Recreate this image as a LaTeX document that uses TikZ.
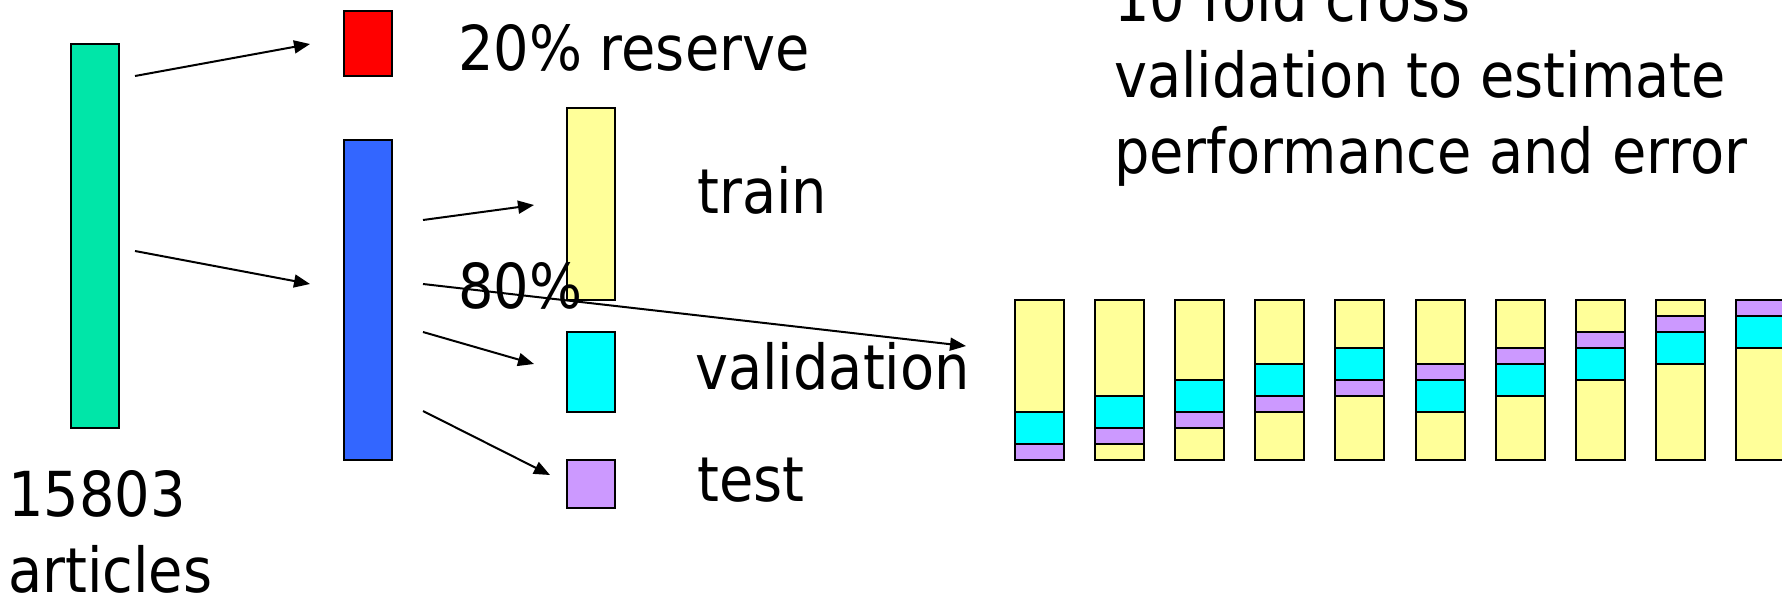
\documentclass[tikz,border=0pt]{standalone}
\usepackage{fontspec}
\setmainfont{DejaVu Sans}[FakeStretch=0.9]
\usetikzlibrary{arrows.meta}
\definecolor{cgreen}{HTML}{00E6A8}
\definecolor{cred}{HTML}{FF0000}
\definecolor{cblue}{HTML}{3366FF}
\definecolor{cyellow}{HTML}{FFFF99}
\definecolor{ccyan}{HTML}{00FFFF}
\definecolor{cpurple}{HTML}{CC99FF}
\tikzset{
  bar/.style={draw=black, line width=2pt, inner sep=0pt, outer sep=0pt, minimum width=48pt},
  lbl/.style={anchor=base west, inner sep=0pt, font=\fontsize{62}{76}\selectfont},
  arr/.style={line width=2pt, -{Triangle[length=16pt,width=13pt]}},
  seg/.style={draw=black, line width=2pt},
}
\begin{document}
\begin{tikzpicture}[x=1pt,y=-1pt]
\useasboundingbox (0,0) rectangle (1782,597);
\clip (0,0) rectangle (1782,597);
% bars
\node[bar, fill=cgreen, minimum height=384pt] (green) at (95,236) {};
\node[bar, fill=cred, minimum height=65pt] (red) at (367.5,43.5) {};
\node[bar, fill=cblue, minimum height=320pt] (blue) at (367.5,300) {};
\node[bar, fill=cyellow, minimum height=192pt] (yellow) at (591,204) {};
\node[bar, fill=ccyan, minimum height=80pt] (cyan) at (591,372) {};
\node[bar, fill=cpurple, minimum height=48pt] (purple) at (591,484) {};
% folds
\foreach \i/\c/\p in {0/7/9,1/6/8,2/5/7,3/4/6,4/3/5,5/5/4,6/4/3,7/3/2,8/2/1,9/1/0}{
  \pgfmathsetmacro{\xl}{1015+80.1*\i}
  \pgfmathsetmacro{\xr}{\xl+49}
  \fill[cyellow] (\xl,300) rectangle (\xr,460);
  \draw[seg, fill=ccyan] (\xl,300+16*\c) rectangle (\xr,300+16*\c+32);
  \draw[seg, fill=cpurple] (\xl,300+16*\p) rectangle (\xr,300+16*\p+16);
  \node[bar, minimum width=49pt, minimum height=160pt, anchor=north west] (fold\i) at (\xl,300) {};
}
% coordinates
\coordinate (s1) at (135,76);  \coordinate (e1) at (310,44);
\coordinate (s2) at (135,251); \coordinate (e2) at (310,284);
\coordinate (s3) at (423,220); \coordinate (e3) at (534,205);
\coordinate (s4) at (423,332); \coordinate (e4) at (534,364);
\coordinate (s5) at (423,411); \coordinate (e5) at (550,475);
\coordinate (s6) at (423,284); \coordinate (e6) at (966,346);
\draw[arr] (s1) -- (e1);
\draw[arr] (s2) -- (e2);
\draw[arr] (s3) -- (e3);
\draw[arr] (s4) -- (e4);
\draw[arr] (s5) -- (e5);
\draw[arr] (s6) -- (e6);
% labels
\node[lbl] (treserve) at (458,70) {20\% reserve};
\node[lbl] (ttrain) at (697,213) {train};
\node[lbl] (t80) at (458,308) {80\%};
\node[lbl] (tval) at (695,389) {validation};
\node[lbl] (ttest) at (697,501) {test};
\node[lbl, align=left] (tart) at (8,592) {15803\\articles};
\node[lbl, align=left] (tcv) at (1114,173) {10 fold cross\\validation to estimate\\performance and error};
\end{tikzpicture}
\end{document}
